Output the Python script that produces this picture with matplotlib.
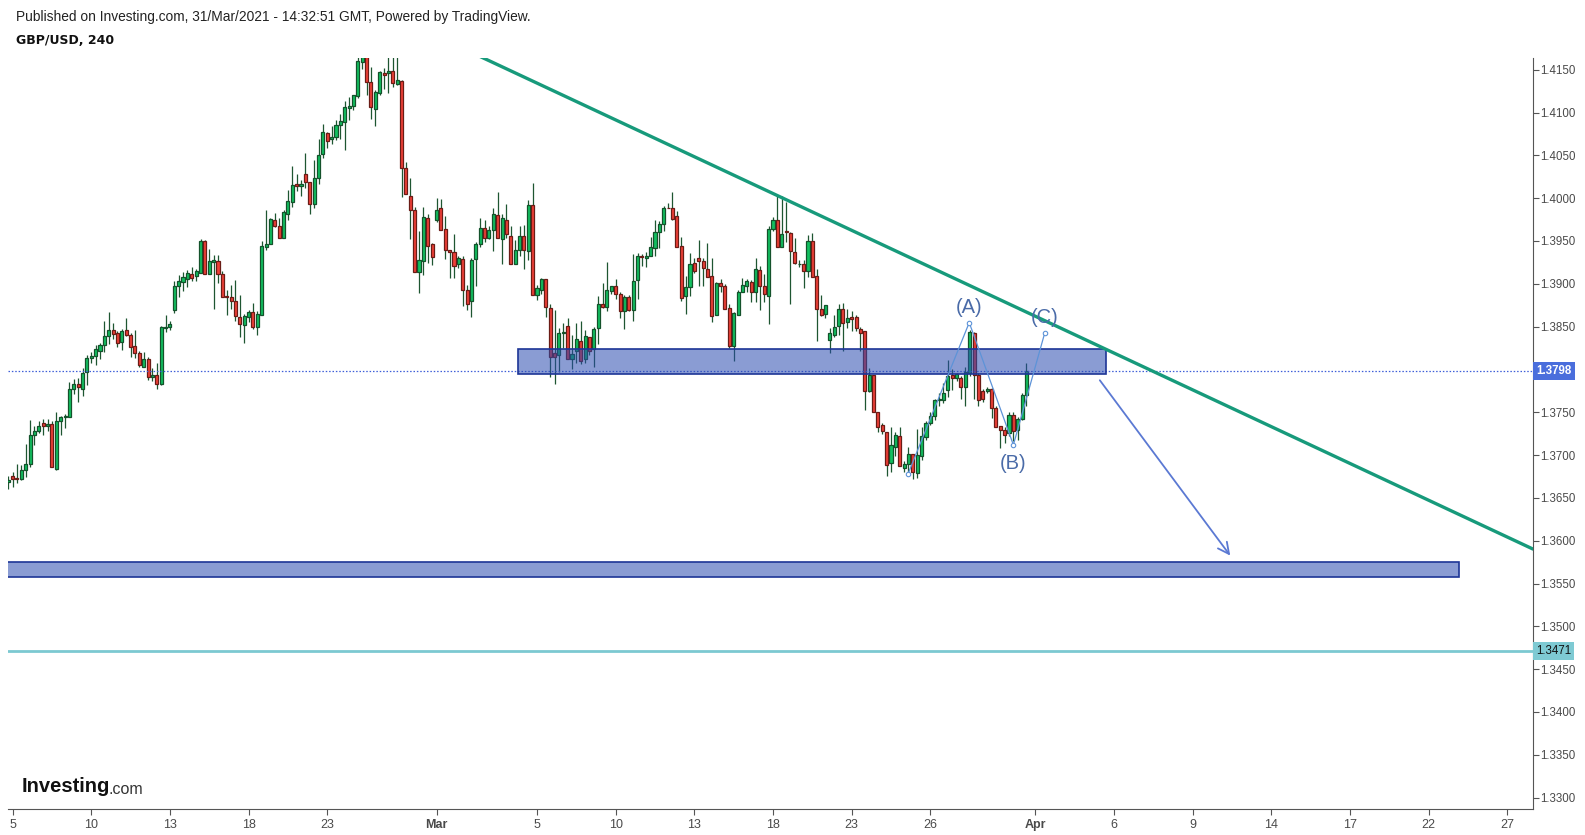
import numpy as np
import matplotlib
matplotlib.use("Agg")
import matplotlib.pyplot as plt
import matplotlib.patches as mpatches
import matplotlib.transforms as mtrans

# GBP/USD 4h candles (open, high, low, close)
opens = [
    1.3669, 1.3675, 1.3673, 1.3672, 1.3683, 1.3689, 1.3723, 1.3728, 1.3738, 1.3734,
    1.3736, 1.3684, 1.3740, 1.3744, 1.3745, 1.3777, 1.3783, 1.3777, 1.3797, 1.3813,
    1.3816, 1.3822, 1.3828, 1.3839, 1.3846, 1.3842, 1.3832, 1.3846, 1.3840, 1.3827,
    1.3819, 1.3803, 1.3812, 1.3791, 1.3793, 1.3783, 1.3848, 1.3850, 1.3869, 1.3898,
    1.3902, 1.3906, 1.3912, 1.3909, 1.3913, 1.3950, 1.3911, 1.3925, 1.3927, 1.3911,
    1.3886, 1.3885, 1.3880, 1.3861, 1.3852, 1.3861, 1.3867, 1.3850, 1.3864,
    1.3943, 1.3947, 1.3975, 1.3968, 1.3953, 1.3982, 1.3996, 1.4016, 1.4014, 1.4028,
    1.4019, 1.3993, 1.4024, 1.4052, 1.4076, 1.4069, 1.4072, 1.4085, 1.4089, 1.4105,
    1.4108, 1.4119, 1.4159, 1.4195, 1.4136, 1.4104, 1.4123, 1.4146, 1.4146,
    1.4149, 1.4133, 1.4137, 1.4035, 1.4003, 1.3986, 1.3914, 1.3927, 1.3977, 1.3947,
    1.3975, 1.3988, 1.3964, 1.3940, 1.3937, 1.3923, 1.3929, 1.3893, 1.3880, 1.3929,
    1.3947, 1.3965, 1.3954, 1.3963, 1.3980, 1.3952, 1.3974, 1.3956, 1.3923, 1.3940,
    1.3956, 1.3938, 1.3992, 1.3887, 1.3893, 1.3906, 1.3872, 1.3819, 1.3817, 1.3842,
    1.3851, 1.3812, 1.3821, 1.3833, 1.3812, 1.3838, 1.3824, 1.3848, 1.3877, 1.3873,
    1.3892, 1.3898, 1.3888, 1.3868, 1.3885, 1.3870, 1.3904, 1.3933, 1.3930, 1.3933,
    1.3942, 1.3960, 1.3970, 1.3989, 1.3988, 1.3979, 1.3944, 1.3886, 1.3896, 1.3924,
    1.3930, 1.3927, 1.3917, 1.3909, 1.3863, 1.3901, 1.3898, 1.3872, 1.3827, 1.3863,
    1.3890, 1.3898, 1.3902, 1.3891, 1.3916, 1.3898, 1.3886, 1.3964, 1.3975, 1.3943,
    1.3962, 1.3959, 1.3937, 1.3923,
    1.3923, 1.3915, 1.3950, 1.3909, 1.3871, 1.3865, 1.3834, 1.3840, 1.3851, 1.3871,
    1.3855, 1.3861, 1.3861, 1.3847, 1.3845, 1.3775, 1.3794, 1.3750, 1.3735, 1.3727,
    1.3691, 1.3710, 1.3722, 1.3685, 1.3689, 1.3701, 1.3679, 1.3699, 1.3721, 1.3737,
    1.3746, 1.3764, 1.3764, 1.3776, 1.3794, 1.3790, 1.3790, 1.3780, 1.3796, 1.3843,
    1.3794, 1.3775, 1.3775, 1.3777, 1.3755, 1.3734, 1.3729, 1.3726, 1.3747, 1.3729,
    1.3742, 1.3770,
]
highs = [
    1.3676, 1.3680, 1.3690, 1.3688, 1.3713, 1.3741, 1.3734, 1.3740, 1.3742, 1.3742,
    1.3740, 1.3750, 1.3746, 1.3748, 1.3785, 1.3789, 1.3790, 1.3802, 1.3817, 1.3820,
    1.3829, 1.3831, 1.3857, 1.3867, 1.3854, 1.3845, 1.3847, 1.3860, 1.3843, 1.3846,
    1.3822, 1.3820, 1.3815, 1.3802, 1.3808, 1.3851, 1.3864, 1.3856, 1.3903, 1.3910,
    1.3914, 1.3916, 1.3920, 1.3917, 1.3952, 1.3951, 1.3941, 1.3934, 1.3934, 1.3915,
    1.3893, 1.3899, 1.3904, 1.3887, 1.3865, 1.3869, 1.3878, 1.3868, 1.3950,
    1.3986, 1.3977, 1.3983, 1.3977, 1.3986, 1.4010, 1.4037, 1.4028, 1.4021, 1.4053,
    1.4019, 1.4045, 1.4069, 1.4087, 1.4077, 1.4084, 1.4091, 1.4098, 1.4114, 1.4118,
    1.4121, 1.4180, 1.4243, 1.4237, 1.4153, 1.4126, 1.4148, 1.4152, 1.4180,
    1.4175, 1.4165, 1.4138, 1.4042, 1.4023, 1.3990, 1.3962, 1.3990, 1.3982, 1.3948,
    1.4000, 1.3999, 1.3979, 1.3940, 1.3958, 1.3932, 1.3932, 1.3899, 1.3930, 1.3949,
    1.3977, 1.3974, 1.3967, 1.3989, 1.4007, 1.3982, 1.3993, 1.3968, 1.3951, 1.3967,
    1.3969, 1.3998, 1.4018, 1.3899, 1.3907, 1.3906, 1.3877, 1.3869, 1.3848, 1.3854,
    1.3860, 1.3840, 1.3854, 1.3857, 1.3846, 1.3838, 1.3850, 1.3886, 1.3901, 1.3926,
    1.3898, 1.3906, 1.3890, 1.3887, 1.3887, 1.3935, 1.3936, 1.3935, 1.3937, 1.3955,
    1.3975, 1.3973, 1.3991, 1.3994, 1.4007, 1.3985, 1.3955, 1.3909, 1.3936, 1.3930,
    1.3951, 1.3930, 1.3948, 1.3930, 1.3902, 1.3906, 1.3900, 1.3877, 1.3867, 1.3893,
    1.3907, 1.3906, 1.3904, 1.3930, 1.3921, 1.3912, 1.3968, 1.3978, 1.4003, 1.4003,
    1.3995, 1.3960, 1.3954, 1.3928,
    1.3928, 1.3957, 1.3959, 1.3917, 1.3887, 1.3875, 1.3848, 1.3863, 1.3877, 1.3878,
    1.3871, 1.3868, 1.3863, 1.3849, 1.3845, 1.3802, 1.3794, 1.3750, 1.3737, 1.3727,
    1.3733, 1.3727, 1.3733, 1.3693, 1.3710, 1.3701, 1.3731, 1.3733, 1.3740, 1.3750,
    1.3766, 1.3772, 1.3784, 1.3811, 1.3800, 1.3796, 1.3792, 1.3803, 1.3846, 1.3844,
    1.3796, 1.3777, 1.3780, 1.3778, 1.3757, 1.3734, 1.3733, 1.3750, 1.3750, 1.3745,
    1.3772, 1.3808,
]
lows = [
    1.3660, 1.3663, 1.3667, 1.3671, 1.3674, 1.3686, 1.3712, 1.3726, 1.3724, 1.3728,
    1.3686, 1.3683, 1.3723, 1.3732, 1.3744, 1.3771, 1.3762, 1.3769, 1.3782, 1.3808,
    1.3805, 1.3812, 1.3820, 1.3830, 1.3836, 1.3826, 1.3823, 1.3839, 1.3815, 1.3813,
    1.3803, 1.3803, 1.3788, 1.3786, 1.3777, 1.3782, 1.3844, 1.3846, 1.3866, 1.3885,
    1.3892, 1.3896, 1.3903, 1.3903, 1.3913, 1.3912, 1.3911, 1.3871, 1.3901, 1.3885,
    1.3864, 1.3871, 1.3856, 1.3838, 1.3831, 1.3855, 1.3847, 1.3840, 1.3864,
    1.3940, 1.3946, 1.3966, 1.3953, 1.3953, 1.3974, 1.3990, 1.4008, 1.4003, 1.4012,
    1.3982, 1.3988, 1.4017, 1.4047, 1.4059, 1.4063, 1.4068, 1.4069, 1.4056, 1.4091,
    1.4103, 1.4117, 1.4151, 1.4121, 1.4093, 1.4084, 1.4120, 1.4127, 1.4123,
    1.4130, 1.4132, 1.4001, 1.4005, 1.3952, 1.3914, 1.3889, 1.3910, 1.3924, 1.3922,
    1.3972, 1.3963, 1.3929, 1.3907, 1.3907, 1.3918, 1.3874, 1.3869, 1.3861, 1.3898,
    1.3943, 1.3949, 1.3952, 1.3938, 1.3953, 1.3923, 1.3954, 1.3923, 1.3923, 1.3933,
    1.3917, 1.3928, 1.3887, 1.3881, 1.3888, 1.3861, 1.3791, 1.3783, 1.3797, 1.3825,
    1.3812, 1.3801, 1.3808, 1.3806, 1.3807, 1.3817, 1.3803, 1.3830, 1.3872, 1.3868,
    1.3888, 1.3882, 1.3860, 1.3847, 1.3868, 1.3857, 1.3882, 1.3921, 1.3920, 1.3932,
    1.3932, 1.3942, 1.3962, 1.3988, 1.3975, 1.3943, 1.3880, 1.3865, 1.3886, 1.3913,
    1.3897, 1.3897, 1.3908, 1.3855, 1.3863, 1.3890, 1.3871, 1.3825, 1.3810, 1.3863,
    1.3890, 1.3891, 1.3879, 1.3879, 1.3869, 1.3879, 1.3853, 1.3962, 1.3943, 1.3943,
    1.3949, 1.3877, 1.3923, 1.3920,
    1.3895, 1.3908, 1.3908, 1.3833, 1.3862, 1.3860, 1.3819, 1.3838, 1.3840, 1.3822,
    1.3848, 1.3845, 1.3845, 1.3822, 1.3753, 1.3774, 1.3750, 1.3727, 1.3725, 1.3676,
    1.3680, 1.3699, 1.3687, 1.3680, 1.3679, 1.3672, 1.3673, 1.3694, 1.3718, 1.3735,
    1.3741, 1.3757, 1.3761, 1.3768, 1.3776, 1.3787, 1.3766, 1.3757, 1.3792, 1.3766,
    1.3757, 1.3762, 1.3772, 1.3743, 1.3733, 1.3708, 1.3714, 1.3722, 1.3717, 1.3718,
    1.3741, 1.3757,
]
closes = [
    1.3671, 1.3672, 1.3672, 1.3682, 1.3690, 1.3724, 1.3728, 1.3734, 1.3734, 1.3736,
    1.3686, 1.3740, 1.3745, 1.3746, 1.3777, 1.3783, 1.3780, 1.3796, 1.3813, 1.3816,
    1.3824, 1.3828, 1.3839, 1.3846, 1.3841, 1.3831, 1.3845, 1.3840, 1.3826, 1.3819,
    1.3805, 1.3812, 1.3791, 1.3793, 1.3783, 1.3850, 1.3850, 1.3853, 1.3898, 1.3903,
    1.3908, 1.3913, 1.3907, 1.3915, 1.3950, 1.3912, 1.3927, 1.3928, 1.3911, 1.3885,
    1.3885, 1.3880, 1.3862, 1.3853, 1.3862, 1.3867, 1.3849, 1.3865, 1.3944,
    1.3947, 1.3976, 1.3968, 1.3953, 1.3984, 1.3997, 1.4015, 1.4014, 1.4016, 1.4019,
    1.3993, 1.4024, 1.4051, 1.4077, 1.4067, 1.4072, 1.4086, 1.4090, 1.4106, 1.4108,
    1.4120, 1.4160, 1.4195, 1.4136, 1.4106, 1.4124, 1.4147, 1.4144, 1.4149,
    1.4134, 1.4138, 1.4035, 1.4005, 1.3986, 1.3914, 1.3928, 1.3978, 1.3944, 1.3931,
    1.3986, 1.3963, 1.3939, 1.3937, 1.3921, 1.3930, 1.3893, 1.3876, 1.3928, 1.3947,
    1.3965, 1.3954, 1.3963, 1.3982, 1.3953, 1.3977, 1.3958, 1.3923, 1.3940, 1.3956,
    1.3939, 1.3992, 1.3887, 1.3895, 1.3906, 1.3873, 1.3815, 1.3815, 1.3842, 1.3844,
    1.3812, 1.3818, 1.3835, 1.3810, 1.3839, 1.3822, 1.3847, 1.3877, 1.3873, 1.3893,
    1.3897, 1.3888, 1.3868, 1.3885, 1.3869, 1.3903, 1.3933, 1.3931, 1.3933, 1.3943,
    1.3961, 1.3970, 1.3989, 1.3988, 1.3976, 1.3943, 1.3884, 1.3896, 1.3923, 1.3915,
    1.3927, 1.3919, 1.3908, 1.3862, 1.3901, 1.3898, 1.3871, 1.3827, 1.3866, 1.3891,
    1.3899, 1.3903, 1.3891, 1.3917, 1.3898, 1.3888, 1.3964, 1.3975, 1.3943, 1.3958,
    1.3960, 1.3938, 1.3924, 1.3923,
    1.3915, 1.3950, 1.3908, 1.3871, 1.3864, 1.3875, 1.3842, 1.3850, 1.3871, 1.3854,
    1.3860, 1.3859, 1.3848, 1.3843, 1.3775, 1.3794, 1.3750, 1.3733, 1.3728, 1.3688,
    1.3712, 1.3724, 1.3687, 1.3689, 1.3701, 1.3680, 1.3700, 1.3722, 1.3737, 1.3746,
    1.3764, 1.3766, 1.3773, 1.3792, 1.3790, 1.3795, 1.3780, 1.3797, 1.3844, 1.3794,
    1.3764, 1.3765, 1.3777, 1.3755, 1.3733, 1.3729, 1.3724, 1.3747, 1.3728, 1.3742,
    1.3770, 1.3798,
]

x_labels = ["5", "10", "13", "18", "23", "Mar", "5", "10", "13", "18", "23", "26",
            "Apr", "6", "9", "14", "17", "22", "27"]
x_label_bars = [1, 19, 37, 55, 73, 98, 121, 139, 157, 175, 193, 211,
                235, 253, 271, 289, 307, 325, 343]
y_ticks = [1.3300, 1.3350, 1.3400, 1.3450, 1.3500, 1.3550, 1.3600, 1.3650, 1.3700,
           1.3750, 1.3850, 1.3900, 1.3950, 1.4000, 1.4050, 1.4100, 1.4150]

last_price = 1.3798
support_line = 1.3471
# drawings (bar index, price)
trend_pts = ([100, 349], [1.41845, 1.3590])
zone_upper = (116.7, 251.2, 1.37946, 1.38233)
zone_lower = (-1.0, 332.0, 1.35573, 1.35750)
arrow_from = (249.4, 1.3790)
arrow_to = (280.0, 1.3580)
wave_bars = [205.9, 219.9, 230.0, 237.2]
wave_prices = [1.36781, 1.38547, 1.37119, 1.38430]
wave_names = ["(A)", "(B)", "(C)"]
wave_label_pos = [(219.9, 1.38725), (230.0, 1.36898), (237.2, 1.38609)]

W, H = 1585, 835
fig = plt.figure(figsize=(W / 100, H / 100), dpi=100)
fig.patch.set_facecolor("white")
ax = fig.add_axes([8 / W, 1 - 809 / H, (1533 - 8) / W, (809 - 58) / H])
ax.set_facecolor("white")

o, h, l, c = (np.array(v) for v in (opens, highs, lows, closes))
idx = np.arange(len(o))
up = c >= o
ax.vlines(idx, l, h, color="#1e5631", lw=0.9, zorder=2)
lo = np.minimum(o, c)
bh = np.maximum(np.abs(c - o), 0.00003)
ax.bar(idx[up], bh[up], bottom=lo[up], width=0.7, color="#12c060",
       edgecolor="#14522b", linewidth=0.9, zorder=3)
ax.bar(idx[~up], bh[~up], bottom=lo[~up], width=0.7, color="#ef4038",
       edgecolor="#6a1c16", linewidth=0.9, zorder=3)

# horizontal lines
ax.axhline(last_price, color="#3f5fd8", lw=0.9, ls=(0, (1.2, 1.5)), zorder=4)
ax.axhline(support_line, color="#7cc9d1", lw=2.0, zorder=4)

# zones
for x0, x1, y0, y1 in (zone_upper, zone_lower):
    ax.add_patch(mpatches.Rectangle((x0, y0), x1 - x0, y1 - y0, facecolor="#2a4bb0",
                                    alpha=0.55, edgecolor="none", zorder=5))
    ax.add_patch(mpatches.Rectangle((x0, y0), x1 - x0, y1 - y0, facecolor="none",
                                    edgecolor="#1d3596", lw=1.2, zorder=6))

# trend line
ax.plot(trend_pts[0], trend_pts[1], color="#179a7b", lw=2.4, zorder=7,
        solid_capstyle="butt")

# projection arrow
ax.annotate("", xy=arrow_to, xytext=arrow_from, zorder=7,
            arrowprops=dict(arrowstyle="->,head_length=0.8,head_width=0.4",
                            color="#5b79d3", lw=1.3))

# ABC wave
ax.plot(wave_bars, wave_prices, color="#5d93d8", lw=0.9, zorder=7,
        marker="o", markersize=3.2, markerfacecolor="white", markeredgewidth=0.8)
for name, (bx, py) in zip(wave_names, wave_label_pos):
    ax.text(bx, py, name, color="#4a6ba8", fontsize=14.5, ha="center", va="center",
            family=["Liberation Sans", "DejaVu Sans"], zorder=8)

ax.set_xlim(-0.05, 348.9)
ax.set_ylim(1.32867, 1.41637)

for s in ("top", "left"):
    ax.spines[s].set_visible(False)
ax.spines["right"].set_color("#555555")
ax.spines["bottom"].set_color("#555555")
ax.yaxis.tick_right()
ax.set_yticks(y_ticks)
ax.set_yticklabels([f"{v:.4f}" for v in y_ticks], family=["Liberation Sans", "DejaVu Sans"])
ax.set_xticks(x_label_bars)
ax.set_xticklabels(x_labels, family=["Liberation Sans Narrow", "Liberation Sans", "DejaVu Sans"])
for t in ax.get_xticklabels():
    if t.get_text() in ("Mar", "Apr"):
        t.set_fontweight("bold")
ax.tick_params(axis="y", direction="out", length=4, width=0.8, color="#555555",
               labelsize=8.3, labelcolor="#4a4a4a", pad=1.5)
ax.tick_params(axis="x", direction="out", length=4, width=0.8, color="#555555",
               labelsize=9, labelcolor="#4a4a4a", pad=3)

# price tags on the scale
tr = mtrans.blended_transform_factory(ax.transAxes, ax.transData)
ax.text(1.002, last_price, f"{last_price:.4f}", transform=tr, ha="left", va="center",
        fontsize=8.3, color="white", fontweight="bold", zorder=10, clip_on=False,
        family=["Liberation Sans", "DejaVu Sans"],
        bbox=dict(boxstyle="square,pad=0.28", facecolor="#4a6edc", edgecolor="none"))
ax.text(1.002, support_line, f"{support_line:.4f}", transform=tr, ha="left", va="center",
        fontsize=8.3, color="#111111", zorder=10, clip_on=False,
        family=["Liberation Sans", "DejaVu Sans"],
        bbox=dict(boxstyle="square,pad=0.28", facecolor="#7ecad3", edgecolor="none"))

# header and logo
fig.text(16 / W, 1 - 17 / H, "Published on Investing.com, 31/Mar/2021 - 14:32:51 GMT, Powered by TradingView.",
         fontsize=9.9, color="#222222", va="center", ha="left",
         family=["Liberation Sans", "DejaVu Sans"])
fig.text(16 / W, 1 - 40.5 / H, "GBP/USD, 240", fontsize=9, fontweight="bold",
         color="#111111", va="center", ha="left", family=["DejaVu Sans"])
fig.text(22 / W, 1 - 787 / H, "Investing", fontsize=14.5, fontweight="bold",
         color="#111111", va="center", ha="left", family=["Liberation Sans", "DejaVu Sans"])
fig.text(108 / W, 1 - 789 / H, ".com", fontsize=11.5, color="#333333",
         va="center", ha="left", family=["Liberation Sans", "DejaVu Sans"])

fig.savefig("out.png", dpi=100)
